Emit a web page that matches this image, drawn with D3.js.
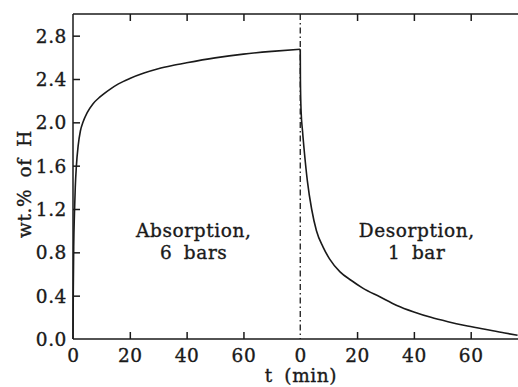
<!DOCTYPE html>
<html>
<head>
<meta charset="utf-8">
<script src="https://cdn.jsdelivr.net/npm/d3@7/dist/d3.min.js"></script>
<style>
  html, body { margin: 0; padding: 0; background: #fff; }
  svg { display: block; }
  text { font-family: "DejaVu Serif", "Liberation Serif", serif; fill: #1a1a1a; stroke: #1a1a1a; stroke-width: 0.35px; }
</style>
</head>
<body>
<svg id="chart" width="518" height="387"></svg>
<script>
// ---- data ----
const absorptionTime = [0, 0.1, 0.25, 0.5, 0.8, 1.2, 1.8, 2.6, 3.5, 5, 7, 9.5, 13, 16, 20, 25, 30, 35, 40, 50, 60, 70, 80];
const absorptionWt   = [0, 0.45, 0.85, 1.15, 1.4, 1.6, 1.78, 1.92, 2.0, 2.09, 2.17, 2.235, 2.305, 2.355, 2.405, 2.455, 2.495, 2.525, 2.55, 2.595, 2.63, 2.655, 2.675];
const desorptionTime = [0, 0.05, 0.3, 0.8, 1.5, 2.5, 4, 5.7, 8, 10.3, 14, 18, 22, 28, 34, 40, 46, 52, 58, 65, 72, 76.5];
const desorptionWt   = [2.675, 2.4, 2.1, 1.92, 1.71, 1.46, 1.2, 1.0, 0.85, 0.74, 0.62, 0.54, 0.47, 0.39, 0.31, 0.25, 0.2, 0.16, 0.125, 0.09, 0.055, 0.035];
const desorptionOffset = 80;           // desorption clock restarts at 80 min of the shared axis
const xTickValues = [0, 20, 40, 60, 80, 100, 120, 140];
const xTickLabels = ["0", "20", "40", "60", "0", "20", "40", "60"];
const yTickValues = [0, 0.4, 0.8, 1.2, 1.6, 2.0, 2.4, 2.8];
const yTickLabels = ["0.0", "0.4", "0.8", "1.2", "1.6", "2.0", "2.4", "2.8"];
const xTitle = "t (min)";
const yTitle = "wt.% of H";
const annotations = [
  { x: 42.5, lines: ["Absorption,", "6 bars"] },
  { x: 121, lines: ["Desorption,", "1 bar"] }
];

// ---- layout ----
const svg = d3.select("#chart");
const L = 73, R = 517, T = 14, B = 339;
const x = d3.scaleLinear().domain([0, 156.3]).range([L, R]);
const y = d3.scaleLinear().domain([0, 3.0]).range([B, T]);
const ink = "#1a1a1a";

function label(px, py, s, anchor, rot) {
  return svg.append("text")
    .attr("transform", `translate(${px},${py}) rotate(${rot || 0})`)
    .attr("text-anchor", anchor)
    .style("font-size", "18.5px")
    .style("letter-spacing", "0.6px")
    .style("word-spacing", "5px")
    .text(s);
}

// frame
const frame = svg.append("g").attr("stroke", ink).attr("stroke-width", 1.5).attr("fill", "none");
frame.append("line").attr("x1", L).attr("x2", L).attr("y1", T).attr("y2", B);
frame.append("line").attr("x1", L).attr("x2", 518).attr("y1", B).attr("y2", B);
frame.append("line").attr("x1", L).attr("x2", 518).attr("y1", T).attr("y2", T);

// axes ticks (inward) via d3 axes
const tk = 7;
const inner = xTickValues.filter(v => v !== 0 && v !== desorptionOffset);
const gx = svg.append("g").attr("transform", `translate(0,${B})`)
  .call(d3.axisBottom(x).tickValues(inner).tickSize(-tk).tickFormat(""));
const gxt = svg.append("g").attr("transform", `translate(0,${T})`)
  .call(d3.axisTop(x).tickValues(inner).tickSize(-tk).tickFormat(""));
const gy = svg.append("g").attr("transform", `translate(${L},0)`)
  .call(d3.axisLeft(y).tickValues(yTickValues.filter(v => v !== 0)).tickSize(-tk).tickFormat(""));
[gx, gxt, gy].forEach(g => {
  g.select(".domain").remove();
  g.selectAll(".tick line").attr("stroke", ink).attr("stroke-width", 1.5);
});

// tick labels
xTickValues.forEach((v, i) => label(x(v) + 0.5, 362, xTickLabels[i], "middle"));
yTickValues.forEach((v, i) => label(67, y(v) + 7, yTickLabels[i], "end"));

// titles
label(301, 382, xTitle, "middle");
label(31, 184, yTitle, "middle", -90);

// dash-dot separator
svg.append("line")
  .attr("x1", x(desorptionOffset)).attr("x2", x(desorptionOffset))
  .attr("y1", T).attr("y2", B)
  .attr("stroke", ink).attr("stroke-width", 1.3)
  .attr("stroke-dasharray", "6,3,1.5,3");

// curves
const line = d3.line().x(d => x(d[0])).y(d => y(d[1])).curve(d3.curveMonotoneX);
const absPts = absorptionTime.map((t, i) => [t, absorptionWt[i]]);
const desPts = desorptionTime.map((t, i) => [t + desorptionOffset, desorptionWt[i]]);
svg.append("path").attr("d", line(absPts)).attr("fill", "none").attr("stroke", ink).attr("stroke-width", 1.6);
svg.append("path").attr("d", line(desPts)).attr("fill", "none").attr("stroke", ink).attr("stroke-width", 1.6);

// annotations
annotations.forEach(a => {
  a.lines.forEach((s, i) => label(x(a.x), 237 + i * 22, s, "middle"));
});
</script>
</body>
</html>
